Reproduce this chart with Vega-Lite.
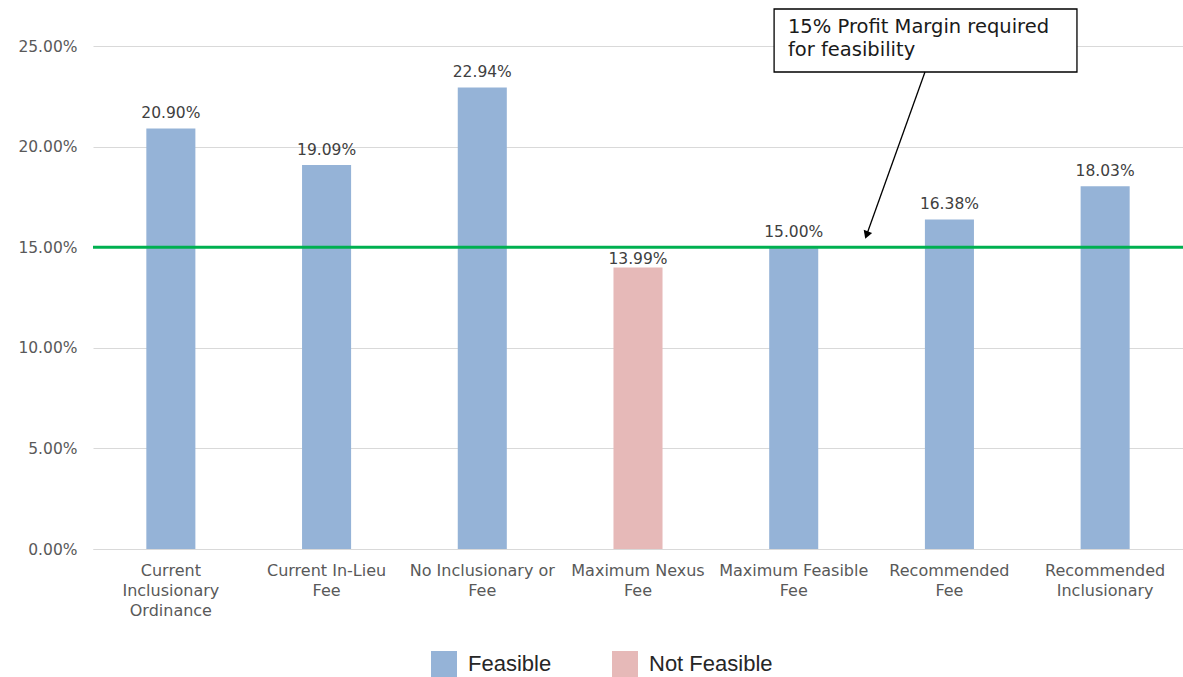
{
  "$schema": "https://vega.github.io/schema/vega-lite/v6.json",
  "width": 1090,
  "height": 503,
  "autosize": {"type": "none"},
  "padding": {"left": 93, "top": 46, "right": 0, "bottom": 128},
  "background": "white",
  "config": {
    "view": {"stroke": null},
    "font": "DejaVu Sans",
    "axisY": {
      "grid": true,
      "gridColor": "#D9D9D9",
      "gridWidth": 1,
      "domain": false,
      "ticks": false,
      "labelPadding": 16,
      "labelFontSize": 15.5,
      "labelColor": "#595959",
      "tickCount": 5
    }
  },
  "layer": [
    {
      "data": {
        "values": [
          {"scenario": "Current Inclusionary Ordinance", "margin": 0.2090, "status": "Feasible"},
          {"scenario": "Current In-Lieu Fee", "margin": 0.1909, "status": "Feasible"},
          {"scenario": "No Inclusionary or Fee", "margin": 0.2294, "status": "Feasible"},
          {"scenario": "Maximum Nexus Fee", "margin": 0.1399, "status": "Not Feasible"},
          {"scenario": "Maximum Feasible Fee", "margin": 0.1500, "status": "Feasible"},
          {"scenario": "Recommended Fee", "margin": 0.1638, "status": "Feasible"},
          {"scenario": "Recommended Inclusionary", "margin": 0.1803, "status": "Feasible"}
        ]
      },
      "encoding": {
        "x": {
          "field": "scenario",
          "type": "nominal",
          "sort": null,
          "scale": {"paddingInner": 0.685, "paddingOuter": 0.3425},
          "axis": {
            "title": null,
            "labelAngle": 0,
            "ticks": false,
            "domainColor": "#D9D9D9",
            "domainWidth": 1,
            "labelPadding": 13,
            "labelBaseline": "top",
            "labelLineHeight": 20,
            "labelFontSize": 16,
            "labelColor": "#595959",
            "labelLimit": 300,
            "labelOverlap": false,
            "labelBound": false,
            "labelExpr": "datum.value == 'Current Inclusionary Ordinance' ? ['Current','Inclusionary','Ordinance'] : datum.value == 'Current In-Lieu Fee' ? ['Current In-Lieu','Fee'] : datum.value == 'No Inclusionary or Fee' ? ['No Inclusionary or','Fee'] : datum.value == 'Maximum Nexus Fee' ? ['Maximum Nexus','Fee'] : datum.value == 'Maximum Feasible Fee' ? ['Maximum Feasible','Fee'] : datum.value == 'Recommended Fee' ? ['Recommended','Fee'] : ['Recommended','Inclusionary']"
          }
        },
        "y": {
          "field": "margin",
          "type": "quantitative",
          "scale": {"domain": [0, 0.25], "nice": false},
          "axis": {"title": null, "format": ".2%"}
        }
      },
      "layer": [
        {
          "mark": {"type": "bar"},
          "encoding": {
            "color": {
              "field": "status",
              "type": "nominal",
              "scale": {"domain": ["Feasible", "Not Feasible"], "range": ["#95B3D7", "#E6B9B8"]},
              "legend": {
                "orient": "none",
                "legendX": 338,
                "legendY": 605,
                "direction": "horizontal",
                "title": null,
                "symbolType": "square",
                "symbolSize": 676,
                "symbolStrokeWidth": 0,
                "labelFontSize": 22,
                "labelFont": "Liberation Sans",
                "labelColor": "#262626",
                "labelOffset": 11,
                "columnPadding": 60,
                "padding": 0,
                "encode": {
                  "symbols": {
                    "update": {
                      "fill": {"signal": "datum.value === 'Feasible' ? '#B8CCE4' : '#E6B9B8'"},
                      "opacity": {"value": 1}
                    }
                  }
                }
              }
            }
          }
        },
        {
          "transform": [{"filter": "datum.scenario !== 'Maximum Nexus Fee'"}],
          "mark": {"type": "text", "dy": -10, "baseline": "alphabetic", "fontSize": 15.5, "color": "#404040", "font": "DejaVu Sans"},
          "encoding": {
            "text": {"field": "margin", "type": "quantitative", "format": ".2%"}
          }
        },
        {
          "transform": [{"filter": "datum.scenario === 'Maximum Nexus Fee'"}],
          "mark": {"type": "text", "dy": -4, "baseline": "alphabetic", "fontSize": 15.5, "color": "#404040", "font": "DejaVu Sans"},
          "encoding": {
            "text": {"field": "margin", "type": "quantitative", "format": ".2%"}
          }
        }
      ]
    },
    {
      "data": {"values": [{"threshold": 0.15}]},
      "mark": {"type": "rule", "color": "#00B050", "strokeWidth": 3},
      "encoding": {
        "y": {"field": "threshold", "type": "quantitative", "scale": {"domain": [0, 0.25], "nice": false}, "axis": {"title": null, "format": ".2%"}}
      }
    },
    {
      "data": {"values": [{"x1": 4.374, "x2": 6.319, "y1": 0.26839, "y2": 0.23708}]},
      "mark": {"type": "rect", "fill": "white", "stroke": "#000000", "strokeWidth": 1.3},
      "encoding": {
        "x": {"field": "x1", "type": "quantitative", "scale": {"domain": [0, 7], "nice": false, "zero": false}, "axis": null},
        "x2": {"field": "x2"},
        "y": {"field": "y1", "type": "quantitative", "scale": {"domain": [0, 0.25], "nice": false}, "axis": {"title": null, "format": ".2%"}},
        "y2": {"field": "y2"}
      }
    },
    {
      "data": {"values": [{"tx": 4.463, "ty": 0.25646, "note": "15% Profit Margin required\nfor feasibility"}]},
      "mark": {"type": "text", "align": "left", "baseline": "alphabetic", "lineBreak": "\n", "lineHeight": 23, "fontSize": 19.5, "font": "DejaVu Sans", "color": "#1a1a1a"},
      "encoding": {
        "x": {"field": "tx", "type": "quantitative", "scale": {"domain": [0, 7], "nice": false, "zero": false}, "axis": null},
        "y": {"field": "ty", "type": "quantitative", "scale": {"domain": [0, 0.25], "nice": false}, "axis": {"title": null, "format": ".2%"}},
        "text": {"field": "note"}
      }
    },
    {
      "data": {"values": [{"ax": 5.343, "ay": 0.23708, "bx": 4.968, "by": 0.15606}]},
      "mark": {"type": "rule", "color": "#000000", "strokeWidth": 1.3},
      "encoding": {
        "x": {"field": "ax", "type": "quantitative", "scale": {"domain": [0, 7], "nice": false, "zero": false}, "axis": null},
        "y": {"field": "ay", "type": "quantitative", "scale": {"domain": [0, 0.25], "nice": false}, "axis": {"title": null, "format": ".2%"}},
        "x2": {"field": "bx"},
        "y2": {"field": "by"}
      }
    },
    {
      "data": {"values": [{"hx": 4.968, "hy": 0.15606}]},
      "mark": {"type": "point", "shape": "triangle-down", "filled": true, "color": "#000000", "opacity": 1, "size": 80, "angle": 20},
      "encoding": {
        "x": {"field": "hx", "type": "quantitative", "scale": {"domain": [0, 7], "nice": false, "zero": false}, "axis": null},
        "y": {"field": "hy", "type": "quantitative", "scale": {"domain": [0, 0.25], "nice": false}, "axis": {"title": null, "format": ".2%"}}
      }
    }
  ],
  "resolve": {"scale": {"x": "independent"}}
}
